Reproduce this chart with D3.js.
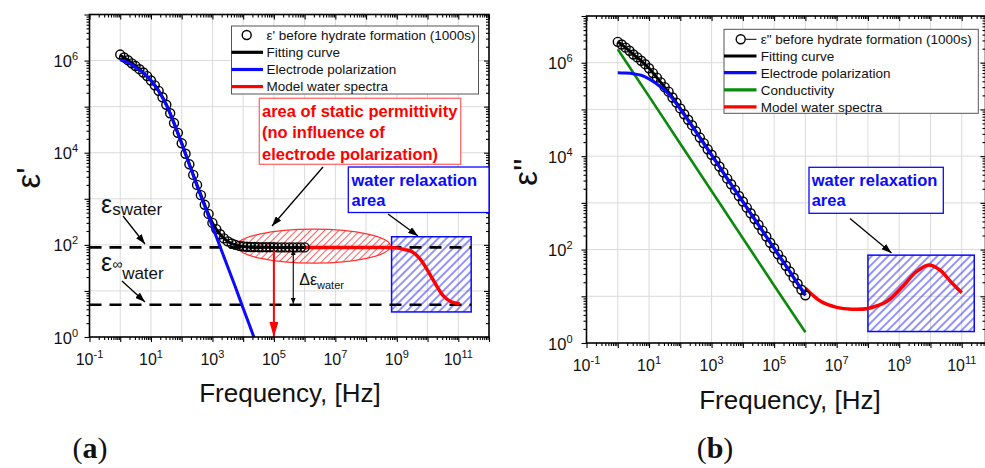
<!DOCTYPE html>
<html>
<head>
<meta charset="utf-8">
<title>Dielectric spectra before hydrate formation</title>
<script src="https://cdn.jsdelivr.net/npm/d3@7"></script>
<style>
  html, body { margin: 0; padding: 0; background: #fff; }
  svg { display: block; font-family: "Liberation Sans", Arial, sans-serif; }
</style>
</head>
<body>
<svg id="chart" width="985" height="468"></svg>
<script>
// ---------- Data ----------
// Measured sweep: 8 points per decade from 1 Hz to 1 MHz (exponents of 10)
const sweepExp = d3.range(0, 6.0001, 0.125);
// Fitted / model components tabulated every quarter decade
const quarterExp = d3.range(0, 6.0001, 0.25);

// (a) real permittivity ε'
const epsRealMeasured = [1.35e6, 1.17e6, 1.02e6, 8.7e5, 7.6e5, 6.5e5, 5.5e5, 4.6e5, 3.7e5, 2.9e5,
  2.2e5, 1.6e5, 1.1e5, 7.2e4, 4.4e4, 2.7e4, 1.6e4, 9.5e3, 5.6e3, 3.3e3,
  2.0e3, 1.2e3, 740, 470, 300, 220, 170, 138, 119, 107,
  100, 95, 92, 91, 90, 90, 89, 89, 89, 89,
  89, 88, 88, 88, 88, 88, 88, 88, 88];
const epsRealFit = [1.3e6, 1.02e6, 7.6e5, 5.5e5, 3.7e5, 2.2e5, 1.1e5, 4.4e4, 1.6e4, 5.6e3,
  2.0e3, 740, 300, 170, 119, 100, 92, 90, 89, 89, 88, 88, 88, 88, 88];
const epsRealElectrode = [1.05e6, 9.0e5, 7.2e5, 5.4e5, 3.7e5, 2.2e5, 1.1e5, 4.4e4, 1.6e4, 5.5e3,
  1.9e3, 690, 250, 91, 33, 12, 4.2, 1.5, 0.54];
const waterRealExp = [6, 7, 8, 8.5, 9, 9.25, 9.5, 9.75, 10, 10.25, 10.5, 10.75, 11.05];
const waterReal = [88, 88, 88, 88, 86, 79, 71, 50, 28, 14.5, 8.0, 5.9, 5.2];
const epsStatic = 88;
const epsInfinity = 5;

// (b) dielectric loss ε''
const epsImagMeasured = [2.8e6, 2.45e6, 2.1e6, 1.8e6, 1.5e6, 1.3e6, 1.1e6, 9.3e5, 7.6e5, 6.0e5,
  4.8e5, 3.8e5, 3.0e5, 2.4e5, 1.8e5, 1.4e5, 1.05e5, 7.9e4, 6.0e4, 4.6e4,
  3.4e4, 2.5e4, 1.9e4, 1.4e4, 1.07e4, 7.9e3, 6.0e3, 4.5e3, 3.3e3, 2.5e3,
  1.9e3, 1.4e3, 1.07e3, 790, 600, 450, 340, 255, 190, 140,
  107, 79, 60, 45, 34, 25, 18.6, 13.8, 10.5];
const epsImagFit = [2.8e6, 2.1e6, 1.5e6, 1.1e6, 7.6e5, 4.8e5, 3.0e5, 1.8e5, 1.05e5, 6.0e4,
  3.4e4, 1.9e4, 1.07e4, 6.0e3, 3.3e3, 1.9e3, 1.07e3, 600, 340, 190, 107, 60, 34, 18.6, 10.5];
const epsImagElectrode = [6.1e5, 6.0e5, 5.8e5, 5.4e5, 4.5e5, 3.5e5, 2.6e5, 1.7e5, 1.0e5, 5.8e4,
  3.3e4, 1.85e4, 1.05e4, 5.9e3, 3.3e3, 1.85e3, 1.05e3, 590, 335, 188, 106, 60, 34, 19, 11];
const conductivityExp = [0, 1, 2, 3, 4, 5, 6];
const conductivity = [1.95e6, 1.9e5, 1.85e4, 1.8e3, 175, 17, 1.7];
const waterImagExp = [6, 6.5, 7, 7.5, 8, 8.6, 9.1, 9.55, 9.95, 10.3, 10.65, 11];
const waterImag = [14.8, 7.7, 5.8, 5.3, 5.5, 7.7, 16, 33.6, 46.8, 36.6, 20.5, 11.9];

// Axis labels (powers of ten that carry a label)
const xLabelExps = [-1, 1, 3, 5, 7, 9, 11];
const yLabelExps = [0, 2, 4, 6];

// ---------- Style ----------
const BLUE = "#0a0aff", RED = "#ff0000", GREEN = "#0b8a0b", BLACK = "#000";

const svg = d3.select("#chart");
const defs = svg.append("defs");

function hatch(id, color, gap, width) {
  const p = defs.append("pattern").attr("id", id)
    .attr("patternUnits", "userSpaceOnUse")
    .attr("width", gap).attr("height", gap)
    .attr("patternTransform", "rotate(45)");
  p.append("line").attr("x1", gap / 2).attr("x2", gap / 2).attr("y1", 0).attr("y2", gap)
    .attr("stroke", color).attr("stroke-width", width);
}
hatch("hatchBlue", "#2a2aff", 5.8, 1);
hatch("hatchRed", "#ff4a4a", 5.0, 0.9);

function marker(id, color, len, wid) {
  defs.append("marker").attr("id", id)
    .attr("viewBox", `0 0 ${len} ${wid}`)
    .attr("refX", len).attr("refY", wid / 2)
    .attr("markerWidth", len).attr("markerHeight", wid)
    .attr("markerUnits", "userSpaceOnUse")
    .attr("orient", "auto-start-reverse")
    .append("path").attr("d", `M0,0L${len},${wid / 2}L0,${wid}Z`).attr("fill", color);
}
marker("arrBlack", BLACK, 10, 7);
marker("arrSmall", BLACK, 6, 5);
marker("arrRed", RED, 15, 9);

const pts = (exps, vals) => exps.map((e, i) => [Math.pow(10, e), vals[i]]);

function makePanel(o) {
  const x = d3.scaleLog().domain(o.xDomain).range([o.L, o.R]);
  const y = d3.scaleLog().domain([1, 1e7]).range([o.B, o.T]);
  const g = svg.append("g");
  const clipId = o.id + "-clip";
  defs.append("clipPath").attr("id", clipId).append("rect")
    .attr("x", o.L).attr("y", o.T).attr("width", o.R - o.L).attr("height", o.B - o.T);

  const decX = d3.range(0, 13).map(e => Math.pow(10, e)).filter(v => v < o.xDomain[1] * 0.999);
  const decY = d3.range(1, 7).map(e => Math.pow(10, e));
  const grid = g.append("g").attr("stroke", "#dadada").attr("stroke-width", 1);
  grid.selectAll("line.gx").data(decX).join("line").attr("class", "gx")
    .attr("x1", d => x(d)).attr("x2", d => x(d)).attr("y1", o.T).attr("y2", o.B);
  grid.selectAll("line.gy").data(decY).join("line").attr("class", "gy")
    .attr("x1", o.L).attr("x2", o.R).attr("y1", d => y(d)).attr("y2", d => y(d));

  const plot = g.append("g").attr("clip-path", `url(#${clipId})`);
  const line = d3.line().x(d => x(d[0])).y(d => y(d[1])).curve(d3.curveCatmullRom.alpha(0.5));
  return { x, y, g, plot, o, line };
}

function drawAxes(p) {
  const { x, y, g, o } = p;
  const [x0, x1] = x.domain();
  const xMajor = [], xMinor = [], yMajor = [], yMinor = [];
  for (let e = -1; e <= 12; e++) for (let k = 1; k <= 9; k++) {
    const v = k * Math.pow(10, e);
    if (v < x0 * 0.999 || v > x1 * 1.001) continue;
    (k === 1 ? xMajor : xMinor).push(v);
  }
  for (let e = 0; e <= 7; e++) for (let k = 1; k <= 9; k++) {
    const v = k * Math.pow(10, e);
    if (v > 1e7 * 1.001) continue;
    (k === 1 ? yMajor : yMinor).push(v);
  }
  const style = sel => {
    sel.select(".domain").remove();
    sel.selectAll("text").remove();
    sel.selectAll("line").attr("stroke", BLACK).attr("stroke-width", 1.1);
  };
  const add = (tr, ax) => g.append("g").attr("transform", tr).call(ax).call(style);
  add(`translate(0,${o.B})`, d3.axisBottom(x).tickValues(xMajor).tickSize(5).tickSizeOuter(0));
  add(`translate(0,${o.B})`, d3.axisBottom(x).tickValues(xMinor).tickSize(3).tickSizeOuter(0));
  add(`translate(0,${o.T})`, d3.axisTop(x).tickValues(xMajor).tickSize(-5).tickSizeOuter(0));
  add(`translate(0,${o.T})`, d3.axisTop(x).tickValues(xMinor).tickSize(-3).tickSizeOuter(0));
  add(`translate(${o.L},0)`, d3.axisLeft(y).tickValues(yMajor).tickSize(5).tickSizeOuter(0));
  add(`translate(${o.L},0)`, d3.axisLeft(y).tickValues(yMinor).tickSize(3).tickSizeOuter(0));
  add(`translate(${o.R},0)`, d3.axisRight(y).tickValues(yMajor).tickSize(-5).tickSizeOuter(0));
  add(`translate(${o.R},0)`, d3.axisRight(y).tickValues(yMinor).tickSize(-3).tickSizeOuter(0));

  g.append("rect").attr("x", o.L).attr("y", o.T).attr("width", o.R - o.L).attr("height", o.B - o.T)
    .attr("fill", "none").attr("stroke", BLACK).attr("stroke-width", 1.6);

  const pow = (sel) => sel.each(function (e) {
    const t = d3.select(this);
    t.append("tspan").text("10");
    t.append("tspan").attr("dy", -7).attr("font-size", 11).text(String(e));
  });
  g.append("g").selectAll("text")
    .data(xLabelExps.filter(e => Math.pow(10, e) >= x0 * 0.999 && Math.pow(10, e) <= x1))
    .join("text").attr("x", e => x(Math.pow(10, e))).attr("y", o.B + 28)
    .attr("text-anchor", "middle").attr("font-size", 16).attr("fill", "#111").call(pow);
  g.append("g").selectAll("text").data(yLabelExps).join("text")
    .attr("x", o.L - o.yGap).attr("y", e => y(Math.pow(10, e)) + 6.5)
    .attr("text-anchor", "end").attr("font-size", 16.5).attr("fill", "#111").call(pow);

  g.append("text").attr("x", o.titleX).attr("y", o.titleY).attr("text-anchor", "middle")
    .attr("font-size", 26).attr("fill", "#111").text("Frequency, [Hz]");
  g.append("text").attr("transform", `translate(${o.yTitleX},${o.yTitleY}) rotate(-90)`)
    .attr("text-anchor", "middle").attr("font-size", 33).attr("fill", "#111").text(o.yTitle);

  const lab = g.append("text").attr("x", o.tagX).attr("y", 458).attr("text-anchor", "middle")
    .attr("font-family", "'Liberation Serif', 'Times New Roman', serif").attr("font-size", 30).attr("fill", "#111");
  lab.append("tspan").text("(");
  lab.append("tspan").attr("font-weight", "bold").text(o.tag);
  lab.append("tspan").text(")");
}

function legend(g, x0, y0, w, h, rows, textX, lineEnd) {
  const lg = g.append("g");
  lg.append("rect").attr("x", x0).attr("y", y0).attr("width", w).attr("height", h)
    .attr("fill", "#fff").attr("stroke", "#555").attr("stroke-width", 1);
  rows.forEach(r => {
    if (r.type === "circle") {
      if (r.stub) lg.append("line").attr("x1", r.cx + 4.5).attr("x2", lineEnd).attr("y1", r.y).attr("y2", r.y)
        .attr("stroke", BLACK).attr("stroke-width", 1);
      lg.append("circle").attr("cx", r.cx).attr("cy", r.y).attr("r", 4.5)
        .attr("fill", "none").attr("stroke", BLACK).attr("stroke-width", 1.4);
    } else {
      lg.append("line").attr("x1", x0).attr("x2", lineEnd).attr("y1", r.y).attr("y2", r.y)
        .attr("stroke", r.color).attr("stroke-width", 3.2);
    }
    lg.append("text").attr("x", textX).attr("y", r.y + 4.8).attr("font-size", 13.5).attr("fill", "#111").text(r.text);
  });
}

function arrow(g, x1, y1, x2, y2, id, color, width) {
  g.append("line").attr("x1", x1).attr("y1", y1).attr("x2", x2).attr("y2", y2)
    .attr("stroke", color).attr("stroke-width", width).attr("marker-end", `url(#${id})`);
}

function noteBox(g, x0, y0, w, h, stroke, color, lines, tx, ty, lh) {
  g.append("rect").attr("x", x0).attr("y", y0).attr("width", w).attr("height", h)
    .attr("fill", "#fff").attr("stroke", stroke).attr("stroke-width", 1.3);
  lines.forEach((s, i) => g.append("text").attr("x", tx).attr("y", ty + i * lh)
    .attr("font-size", 16.5).attr("font-weight", "bold").attr("fill", color).text(s));
}

// ================= Panel (a): ε' =================
const A = makePanel({
  id: "pa", L: 89.5, R: 489, T: 14.5, B: 337, xDomain: [0.1, 1e12], yGap: 11.5,
  titleX: 290, titleY: 401.5, yTitle: "ε'", yTitleX: 40, yTitleY: 178, tag: "a", tagX: 90
});
{
  const { x, y, plot, line } = A;
  // area of static permittivity (ellipse in data space)
  const ex0 = x(Math.pow(10, 3.8)), ex1 = x(Math.pow(10, 8.79));
  const ey0 = y(Math.pow(10, 2.34)), ey1 = y(Math.pow(10, 1.605));
  plot.append("ellipse").attr("cx", (ex0 + ex1) / 2).attr("cy", (ey0 + ey1) / 2)
    .attr("rx", (ex1 - ex0) / 2).attr("ry", (ey1 - ey0) / 2)
    .attr("fill", "url(#hatchRed)").attr("stroke", "#ff3030").attr("stroke-width", 1.2);
  // water relaxation area
  const rx0 = x(Math.pow(10, 8.83)), rx1 = x(Math.pow(10, 11.42));
  plot.append("rect").attr("x", rx0).attr("width", rx1 - rx0)
    .attr("y", y(150)).attr("height", y(3.5) - y(150))
    .attr("fill", "url(#hatchBlue)").attr("stroke", BLUE).attr("stroke-width", 1.5);
  // εs and ε∞ levels
  [epsStatic, epsInfinity].forEach(v => plot.append("line")
    .attr("x1", x(0.1)).attr("x2", x(Math.pow(10, 11.42))).attr("y1", y(v)).attr("y2", y(v))
    .attr("stroke", BLACK).attr("stroke-width", 2.6).attr("stroke-dasharray", "12,8"));

  plot.append("path").attr("d", line(pts(waterRealExp, waterReal)))
    .attr("fill", "none").attr("stroke", RED).attr("stroke-width", 3.5);
  plot.append("path").attr("d", line(pts(quarterExp, epsRealFit)))
    .attr("fill", "none").attr("stroke", BLACK).attr("stroke-width", 3);
  plot.selectAll("circle.m").data(pts(sweepExp, epsRealMeasured)).join("circle").attr("class", "m")
    .attr("cx", d => x(d[0])).attr("cy", d => y(d[1])).attr("r", 4.5)
    .attr("fill", "none").attr("stroke", BLACK).attr("stroke-width", 1.4);
  plot.append("path").attr("d", line(pts(quarterExp.slice(0, epsRealElectrode.length), epsRealElectrode)))
    .attr("fill", "none").attr("stroke", BLUE).attr("stroke-width", 3);

  // static permittivity read-off at 100 kHz
  A.g.append("line").attr("x1", x(1e5)).attr("x2", x(1e5)).attr("y1", y(epsStatic) + 3).attr("y2", y(1))
    .attr("stroke", RED).attr("stroke-width", 2).attr("marker-end", "url(#arrRed)");
  // Δε between the two levels
  const dx = x(Math.pow(10, 5.63));
  A.g.append("line").attr("x1", dx).attr("x2", dx).attr("y1", y(epsStatic) + 2).attr("y2", y(epsInfinity) - 1)
    .attr("stroke", BLACK).attr("stroke-width", 1.1)
    .attr("marker-start", "url(#arrSmall)").attr("marker-end", "url(#arrSmall)");
}
drawAxes(A);
{
  const g = A.g;
  const t1 = g.append("text").attr("x", A.x(Math.pow(10, 5.63)) + 6).attr("y", 285).attr("fill", "#111");
  t1.append("tspan").attr("font-size", 16).text("Δε");
  t1.append("tspan").attr("font-size", 11).attr("dy", 4).text("water");

  const s = g.append("text").attr("x", 101).attr("y", 213).attr("fill", "#111");
  s.append("tspan").attr("font-size", 25).text("ε");
  s.append("tspan").attr("font-size", 17).attr("dy", 2).text("swater");
  const inf = g.append("text").attr("x", 101).attr("y", 271).attr("fill", "#111");
  inf.append("tspan").attr("font-size", 25).text("ε");
  inf.append("tspan").attr("font-size", 14).attr("dy", -2).text("∞");
  inf.append("tspan").attr("font-size", 17).attr("dy", 10).text("water");
  arrow(g, 123, 216, 145, 244, "arrBlack", BLACK, 1.3);
  arrow(g, 122, 281, 145, 302, "arrBlack", BLACK, 1.3);

  legend(g, 231.5, 26, 247, 68, [
    { type: "circle", cx: 246.7, y: 35, text: "ε' before hydrate formation (1000s)" },
    { type: "line", color: BLACK, y: 52.3, text: "Fitting curve" },
    { type: "line", color: BLUE, y: 69.5, text: "Electrode polarization" },
    { type: "line", color: RED, y: 86.6, text: "Model water spectra" }
  ], 266.5, 263);

  noteBox(g, 259.3, 98.3, 201.4, 66, "#ff6a6a", RED,
    ["area of static permittivity", "(no influence of", "electrode polarization)"], 262, 116.5, 21.5);
  noteBox(g, 348.3, 167, 140.7, 45.5, BLUE, BLUE, ["water relaxation", "area"], 351.5, 185.5, 20);
  arrow(g, 323, 167, 272, 226, "arrBlack", BLACK, 1.3);
  arrow(g, 388, 214, 418, 236, "arrBlack", BLACK, 1.3);
}

// ================= Panel (b): ε'' =================
const B = makePanel({
  id: "pb", L: 586.5, R: 985.5, T: 16, B: 343, xDomain: [0.1, Math.pow(10, 11.76)], yGap: 14,
  titleX: 790, titleY: 409, yTitle: "ε''", yTitleX: 537, yTitleY: 172, tag: "b", tagX: 715
});
{
  const { x, y, plot, line } = B;
  const rx0 = x(1e8), rx1 = x(Math.pow(10, 11.4));
  plot.append("rect").attr("x", rx0).attr("width", rx1 - rx0)
    .attr("y", y(76)).attr("height", y(1.76) - y(76))
    .attr("fill", "url(#hatchBlue)").attr("stroke", BLUE).attr("stroke-width", 1.5);

  plot.append("path").attr("d", line(pts(conductivityExp, conductivity)))
    .attr("fill", "none").attr("stroke", GREEN).attr("stroke-width", 2.6);
  plot.append("path").attr("d", line(pts(waterImagExp, waterImag)))
    .attr("fill", "none").attr("stroke", RED).attr("stroke-width", 3.5);
  plot.append("path").attr("d", line(pts(quarterExp, epsImagFit)))
    .attr("fill", "none").attr("stroke", BLACK).attr("stroke-width", 3);
  plot.selectAll("circle.m").data(pts(sweepExp, epsImagMeasured)).join("circle").attr("class", "m")
    .attr("cx", d => x(d[0])).attr("cy", d => y(d[1])).attr("r", 4.5)
    .attr("fill", "none").attr("stroke", BLACK).attr("stroke-width", 1.4);
  plot.append("path").attr("d", line(pts(quarterExp, epsImagElectrode)))
    .attr("fill", "none").attr("stroke", BLUE).attr("stroke-width", 3);
}
drawAxes(B);
{
  const g = B.g;
  legend(g, 724, 29.3, 254.3, 84, [
    { type: "circle", cx: 740.7, y: 39.3, text: "ε\" before hydrate formation (1000s)", stub: true },
    { type: "line", color: BLACK, y: 56, text: "Fitting curve" },
    { type: "line", color: BLUE, y: 72.7, text: "Electrode polarization" },
    { type: "line", color: GREEN, y: 89.8, text: "Conductivity" },
    { type: "line", color: RED, y: 106.8, text: "Model water spectra" }
  ], 760.7, 756.5);
  noteBox(g, 809, 167.3, 134.3, 46, BLUE, BLUE, ["water relaxation", "area"], 811.7, 186, 20);
  arrow(g, 850, 218.5, 891.5, 253, "arrBlack", BLACK, 1.3);
}
</script>
</body>
</html>
